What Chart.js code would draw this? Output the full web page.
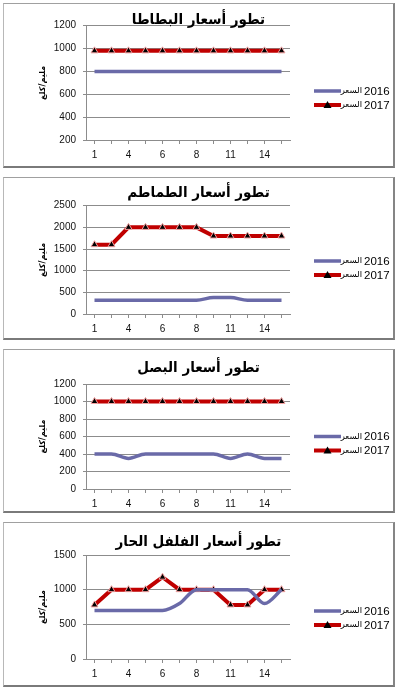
<!DOCTYPE html>
<html>
<head>
<meta charset="utf-8">
<script src="https://cdn.jsdelivr.net/npm/chart.js@4/dist/chart.umd.min.js"></script>
<style>
  body { margin: 0; background: #fff; }
  .panel {
    position: absolute;
    left: 3px;
    width: 389px;
    border-left: 1px solid #b8b8b8;
    border-top: 1px solid #a0a0a0;
    border-right: 2px solid #858585;
    border-bottom: 2px solid #7a7a7a;
    background: #fff;
  }
  canvas { display: block; }
</style>
</head>
<body>
<div class="panel" style="top:3px"><canvas id="c1" width="389" height="162"></canvas></div>
<div class="panel" style="top:177px"><canvas id="c2" width="389" height="160"></canvas></div>
<div class="panel" style="top:349px"><canvas id="c3" width="389" height="161"></canvas></div>
<div class="panel" style="top:522px"><canvas id="c4" width="389" height="162"></canvas></div>
<script>
var days = ["1", "2", "4", "5", "6", "7", "8", "9", "11", "12", "14", "15"];

var potato2016 = [800, 800, 800, 800, 800, 800, 800, 800, 800, 800, 800, 800];
var potato2017 = [980, 980, 980, 980, 980, 980, 980, 980, 980, 980, 980, 980];

var tomato2016 = [320, 320, 320, 320, 320, 320, 320, 380, 380, 320, 320, 320];
var tomato2017 = [1600, 1600, 2000, 2000, 2000, 2000, 2000, 1800, 1800, 1800, 1800, 1800];

var onion2016 = [400, 400, 350, 400, 400, 400, 400, 400, 350, 400, 350, 350];
var onion2017 = [1000, 1000, 1000, 1000, 1000, 1000, 1000, 1000, 1000, 1000, 1000, 1000];

var pepper2016 = [700, 700, 700, 700, 700, 800, 1000, 1000, 1000, 1000, 800, 1000];
var pepper2017 = [780, 1000, 1000, 1000, 1180, 1000, 1000, 1000, 780, 780, 1000, 1000];

var seriesNames = ["السعر 2016", "السعر 2017"];
var yTitle = "مليم/كلغ";

var blue = "#6a6aa8";
var red = "#c00000";
var gridColor = "#8c8c8c";

// legend drawn at the right of each panel, like the excel one
var sideLegend = {
  id: "sideLegend",
  afterDraw: function (chart, args, opts) {
    var ctx = chart.ctx;
    chart.data.datasets.forEach(function (ds, i) {
      var y = opts.top + i * 14;
      ctx.save();
      ctx.strokeStyle = ds.borderColor;
      ctx.lineWidth = ds.borderWidth;
      ctx.beginPath();
      ctx.moveTo(310, y);
      ctx.lineTo(337, y);
      ctx.stroke();
      if (ds.pointRadius > 0) {
        ctx.fillStyle = "#000";
        ctx.beginPath();
        ctx.moveTo(323.5, y - 4);
        ctx.lineTo(327.5, y + 3);
        ctx.lineTo(319.5, y + 3);
        ctx.closePath();
        ctx.fill();
      }
      var parts = ds.label.split(" ");
      ctx.fillStyle = "#000";
      ctx.textBaseline = "middle";
      ctx.textAlign = "right";
      ctx.font = "8.5px 'DejaVu Sans'";
      ctx.fillText(parts[0], 358, y);
      ctx.textAlign = "left";
      ctx.font = "11.5px 'Liberation Sans'";
      ctx.fillText(parts[1], 360, y + 0.5);
      ctx.restore();
    });
  },
};

function makeChart(id, title, d2016, d2017, yMin, yMax, step, lay) {
  return new Chart(document.getElementById(id), {
    type: "line",
    data: {
      labels: days,
      datasets: [
        {
          label: seriesNames[0],
          data: d2016,
          borderColor: blue,
          backgroundColor: blue,
          borderWidth: 3.5,
          pointRadius: 0,
          cubicInterpolationMode: "monotone",
          fill: false,
        },
        {
          label: seriesNames[1],
          data: d2017,
          borderColor: red,
          backgroundColor: "#000",
          borderWidth: 4,
          pointStyle: "triangle",
          pointRadius: 4,
          pointBorderColor: "#f2a0a0",
          pointBorderWidth: 1,
          tension: 0,
          fill: false,
        },
      ],
    },
    options: {
      responsive: false,
      animation: false,
      events: [],
      layout: { padding: { left: 0, right: 0, top: 0, bottom: lay.bottom } },
      plugins: {
        legend: { display: false },
        tooltip: { enabled: false },
        title: {
          display: true,
          text: title,
          color: "#000",
          font: { family: "'DejaVu Sans Condensed', 'DejaVu Sans'", size: 15, weight: "bold", lineHeight: 1 },
          padding: { top: lay.titleTop, bottom: lay.titleBottom },
        },
        sideLegend: { top: lay.legendTop },
      },
      scales: {
        x: {
          offset: true,
          grid: { display: true, drawOnChartArea: false, tickLength: 4, color: gridColor },
          border: { display: true, color: gridColor },
          ticks: {
            autoSkip: false,
            maxRotation: 0,
            padding: 5,
            color: "#111",
            font: { family: "'Liberation Sans'", size: 10 },
            callback: function (v, i) {
              return i % 2 === 0 ? this.getLabelForValue(v) : "";
            },
          },
          afterFit: function (s) {
            s.height = 22;
          },
        },
        y: {
          min: yMin,
          max: yMax,
          grid: { color: gridColor, tickLength: 3 },
          border: { display: true, color: gridColor },
          ticks: {
            stepSize: step,
            padding: 7,
            color: "#111",
            font: { family: "'Liberation Sans'", size: 10 },
            callback: function (v) {
              return String(v);
            },
          },
          title: {
            display: true,
            text: yTitle,
            color: "#000",
            font: { family: "'DejaVu Sans'", size: 8, weight: "bold" },
            padding: { top: 34, bottom: 0 },
          },
          afterFit: function (s) {
            s.width = 82;
          },
        },
        side: {
          type: "linear",
          position: "right",
          grid: { display: false },
          border: { display: false },
          ticks: { display: false },
          afterFit: function (s) {
            s.width = 103;
          },
        },
      },
    },
    plugins: [sideLegend],
  });
}

var chart1 = makeChart("c1", "تطور أسعار البطاطا", potato2016, potato2017, 200, 1200, 200,
  { titleTop: 8.5, titleBottom: -1.8, bottom: 4, legendTop: 87 });
var chart2 = makeChart("c2", "تطور أسعار الطماطم", tomato2016, tomato2017, 0, 2500, 500,
  { titleTop: 7.5, titleBottom: 5.2, bottom: 2, legendTop: 83 });
var chart3 = makeChart("c3", "تطور أسعار البصل", onion2016, onion2017, 0, 1200, 200,
  { titleTop: 10.5, titleBottom: 8.5, bottom: 0, legendTop: 86.5 });
var chart4 = makeChart("c4", "تطور أسعار الفلفل الحار", pepper2016, pepper2017, 0, 1500, 500,
  { titleTop: 11.5, titleBottom: 5.5, bottom: 4, legendTop: 88 });
</script>
</body>
</html>
